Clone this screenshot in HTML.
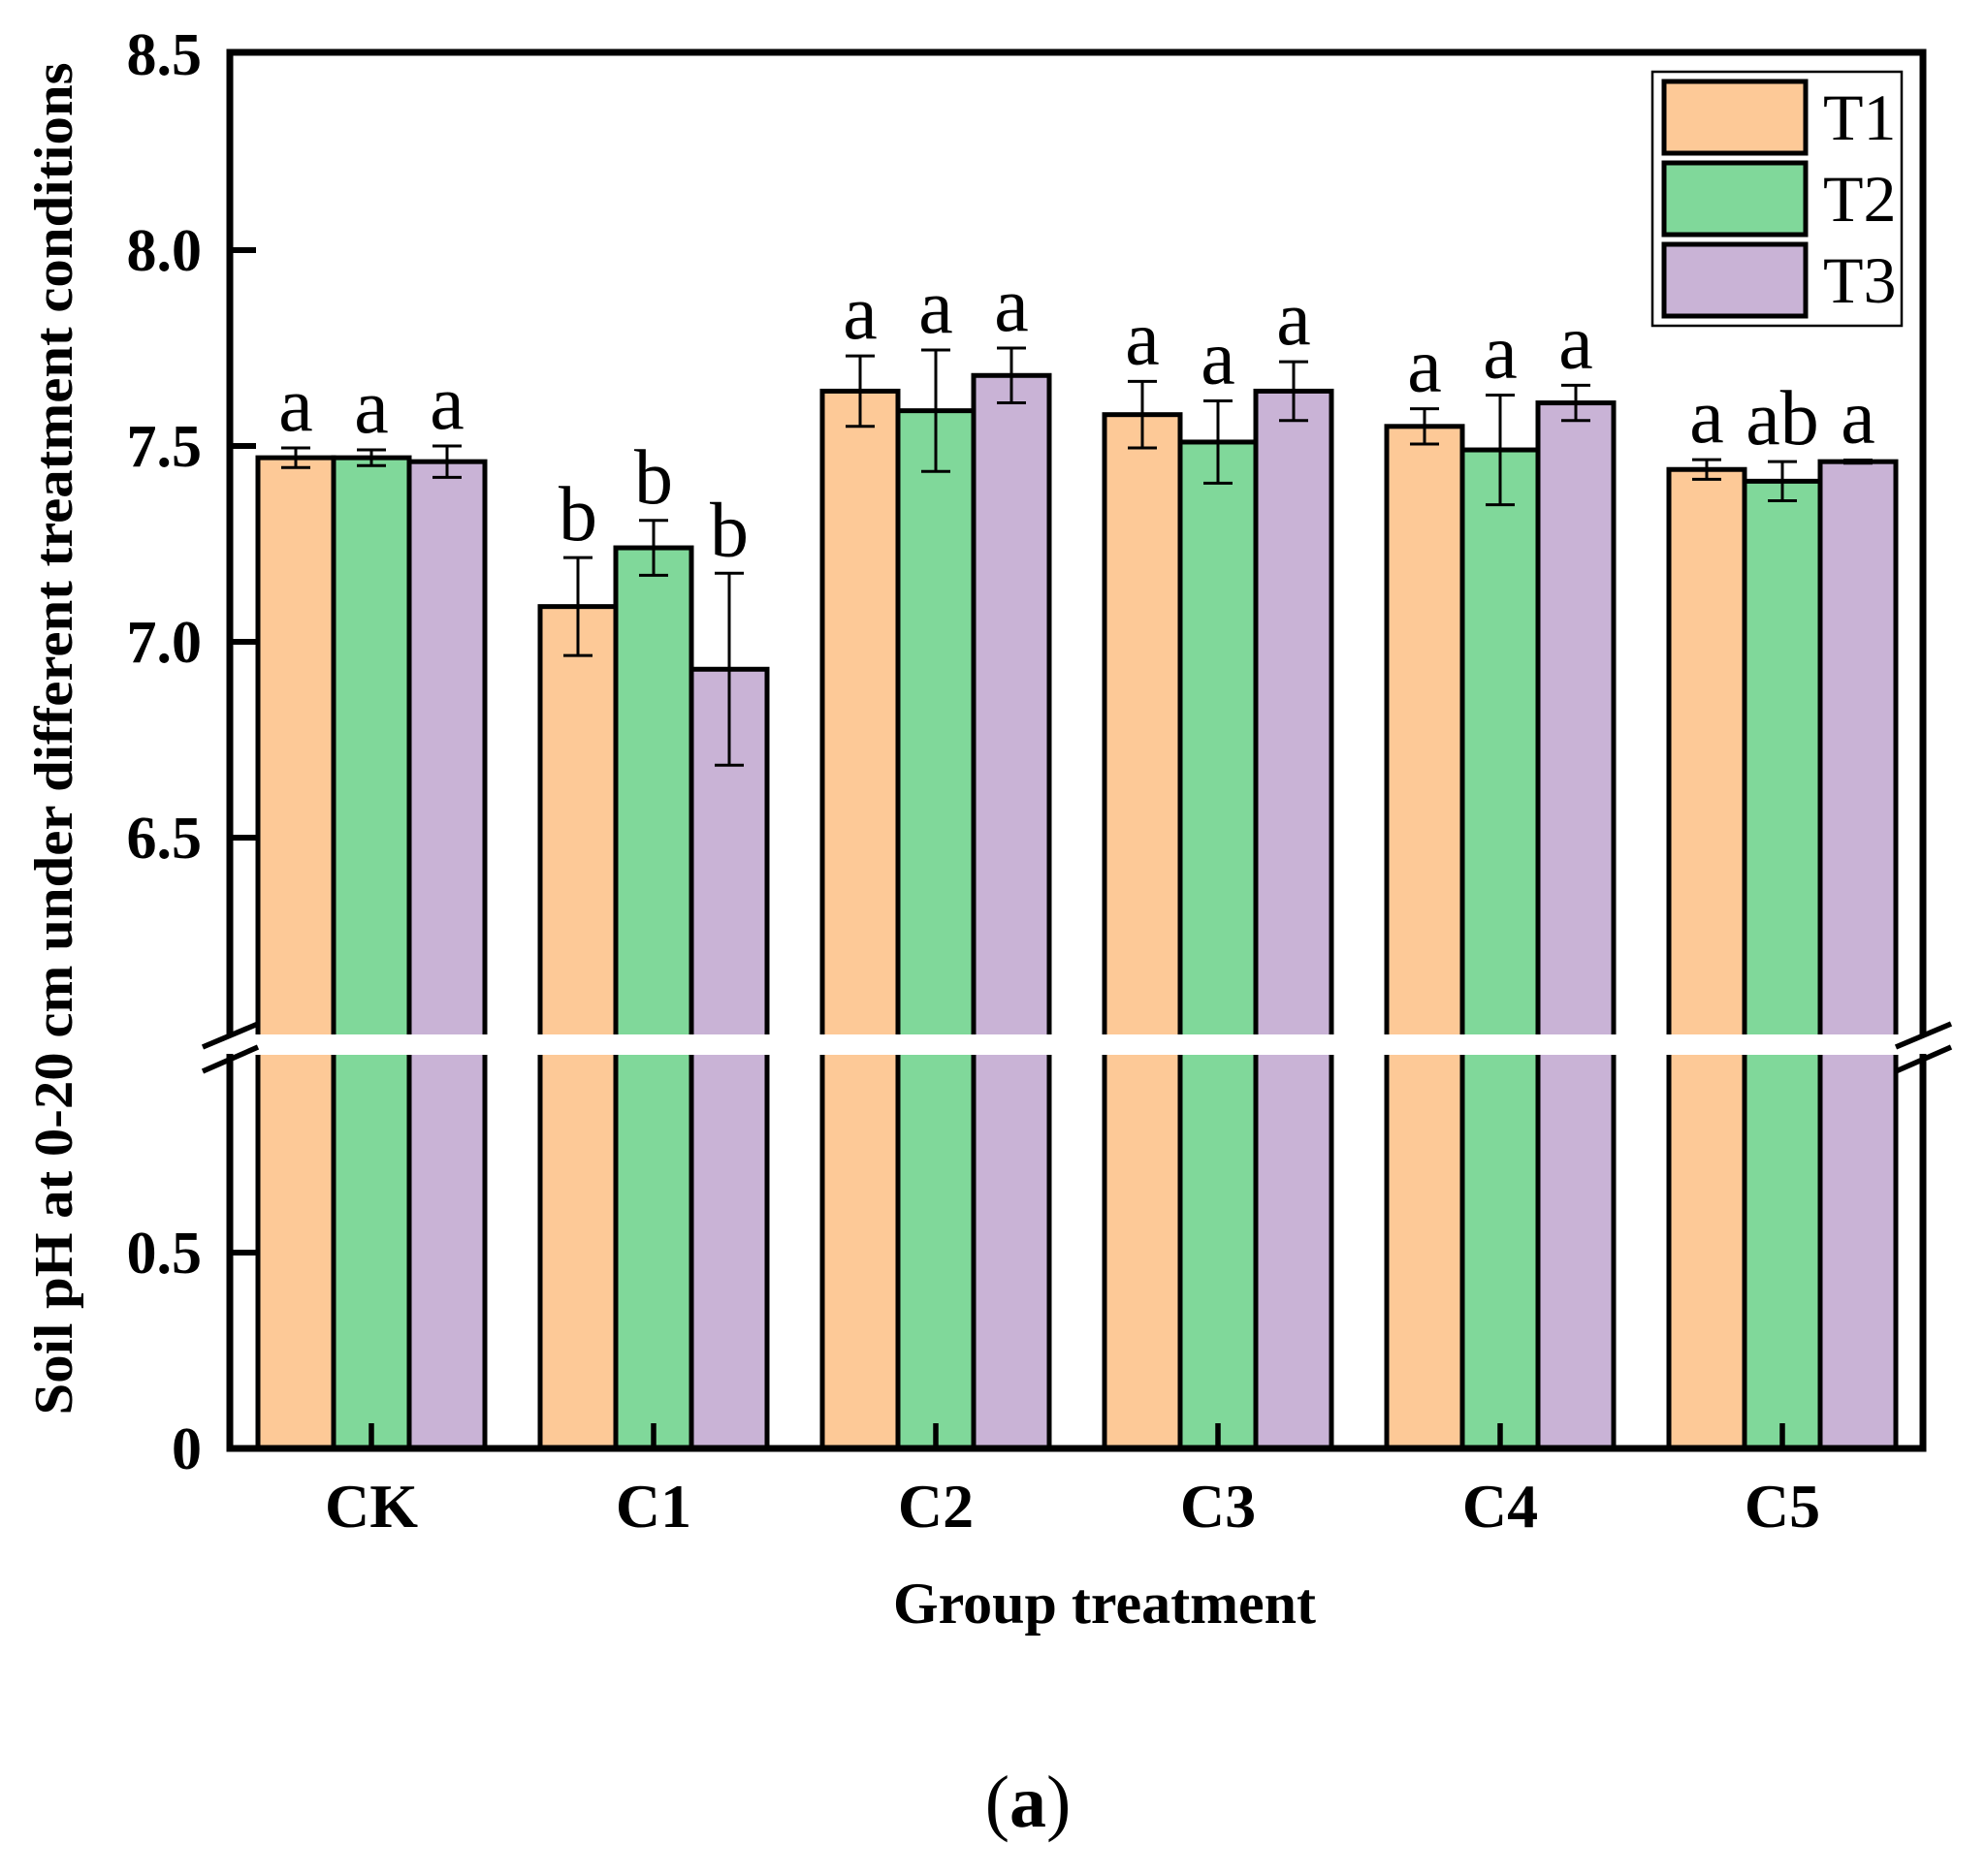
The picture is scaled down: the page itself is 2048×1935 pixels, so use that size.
<!DOCTYPE html>
<html><head><meta charset="utf-8"><style>html,body{margin:0;padding:0;background:#fff}svg{display:block}</style></head>
<body>
<svg width="2048" height="1935" viewBox="0 0 2048 1935" xmlns="http://www.w3.org/2000/svg" font-family="Liberation Serif, serif">
<g id="bars" stroke="#000" stroke-width="5">
</g>
<script>
(function(){
var NS="http://www.w3.org/2000/svg";
var g=document.getElementById('bars');
var svg=g.ownerSVGElement;
function Y(v){return 56+(8.5-v)*404;}
var cols=["#FDC997","#80D89A","#C9B3D6"];
var data=[
[[7.47,0.025],[7.47,0.02],[7.46,0.04]],
[[7.09,0.125],[7.24,0.07],[6.93,0.245]],
[[7.64,0.09],[7.59,0.155],[7.68,0.07]],
[[7.58,0.085],[7.51,0.105],[7.64,0.075]],
[[7.55,0.045],[7.49,0.14],[7.61,0.045]],
[[7.44,0.025],[7.41,0.05],[7.46,0.004]]];
var lets=[["a","a","a"],["b","b","b"],["a","a","a"],["a","a","a"],["a","a","a"],["a","ab","a"]];
function el(t,a,p){var e=document.createElementNS(NS,t);for(var k in a)e.setAttribute(k,a[k]);(p||svg).appendChild(e);return e;}
for(var i=0;i<6;i++){var c=383+i*291;
 for(var j=0;j<3;j++){var x=c+(j-1)*78-39;var d=data[i][j];var yt=Y(d[0]);
  el('rect',{x:x,y:yt,width:78,height:1494-yt,fill:cols[j]},g);}
}
el('rect',{x:240,y:1067,width:1740,height:21,fill:"#fff"});
for(var i=0;i<6;i++){var c=383+i*291;
 for(var j=0;j<3;j++){var cx=c+(j-1)*78;var d=data[i][j];var t=Y(d[0]+d[1]),b=Y(d[0]-d[1]);
  el('line',{x1:cx,y1:t,x2:cx,y2:b,stroke:"#000","stroke-width":3});
  el('line',{x1:cx-15,y1:t,x2:cx+15,y2:t,stroke:"#000","stroke-width":3});
  el('line',{x1:cx-15,y1:b,x2:cx+15,y2:b,stroke:"#000","stroke-width":3});
  var tx=el('text',{x:cx,y:t-18,"text-anchor":"middle","font-size":80});tx.textContent=lets[i][j];}
 el('line',{x1:c,y1:1494,x2:c,y2:1468,stroke:"#000","stroke-width":5.5});
 var xl=el('text',{x:c,y:1575,"text-anchor":"middle","font-size":64,"font-weight":"bold"});xl.textContent=["CK","C1","C2","C3","C4","C5"][i];
}
el('path',{d:"M237,1067 V54 H1983 V1067",fill:"none",stroke:"#000","stroke-width":7});
el('path',{d:"M237,1087 V1494 H1983 V1087",fill:"none",stroke:"#000","stroke-width":7});
var tk=[[8.5,56,"8.5"],[8.0,Y(8.0),"8.0"],[7.5,Y(7.5),"7.5"],[7.0,Y(7.0),"7.0"],[6.5,Y(6.5),"6.5"],[0.5,1292,"0.5"],[0,1494,"0"]];
tk.forEach(function(t){ if(t[0]!=8.5&&t[0]!=0) el('line',{x1:237,y1:t[1],x2:264,y2:t[1],stroke:"#000","stroke-width":6});
 var e=el('text',{x:208,y:t[1]+21,"text-anchor":"end","font-size":62,"font-weight":"bold"});e.textContent=t[2];});
[[209,1080,266,1056],[209,1105,266,1080],[1955,1080,2012,1056],[1955,1105,2012,1080]].forEach(function(l){
 el('line',{x1:l[0],y1:l[1],x2:l[2],y2:l[3],stroke:"#000","stroke-width":5.5});});
el('rect',{x:1704,y:74,width:257,height:262,fill:"#fff",stroke:"#000","stroke-width":2.5});
["T1","T2","T3"].forEach(function(n,k){var y=84+k*84;
 el('rect',{x:1716,y:y,width:146,height:74,fill:cols[k],stroke:"#000","stroke-width":5});
 var e=el('text',{x:1880,y:y+60,"font-size":68});e.textContent=n;});
})();
</script>
<text x="1139" y="1674" text-anchor="middle" font-size="60" font-weight="bold">Group treatment</text>
<text x="1060" y="1884" text-anchor="middle" font-size="76">(<tspan font-weight="bold">a</tspan>)</text>
<text transform="translate(74,762) rotate(-90)" text-anchor="middle" font-size="56" font-weight="bold" textLength="1395" lengthAdjust="spacingAndGlyphs">Soil pH at 0-20 cm under different treatment conditions</text>
</svg>
</body></html>
